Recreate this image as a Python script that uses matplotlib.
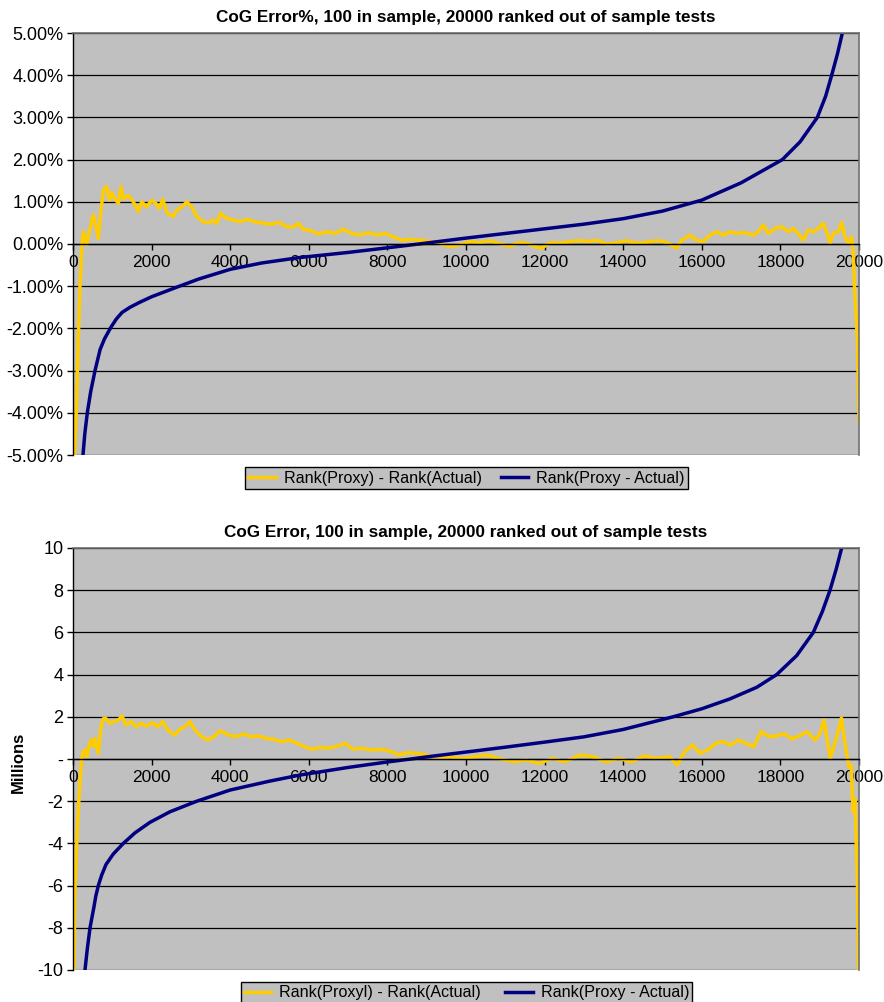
import matplotlib
matplotlib.use("Agg")
import matplotlib.pyplot as plt
from matplotlib.ticker import FuncFormatter

plt.rcParams['font.family'] = ['Liberation Sans', 'DejaVu Sans']

# Rank position of each out-of-sample test
x_ticks = list(range(0, 20001, 2000))

# --- CoG Error% (values in %) ---
pct_rank_x = [40, 90, 110, 150, 178, 200, 220, 263, 348, 433, 517, 585, 645, 704, 772, 857, 925,
              984, 1069, 1153, 1221, 1281, 1408, 1535, 1662, 1747, 1875, 2002, 2112, 2196, 2282,
              2399, 2552, 2654, 2766, 2893, 3020, 3147, 3317, 3443, 3570, 3655, 3757, 3910, 4079,
              4249, 4419, 4631, 4843, 5055, 5249, 5437, 5606, 5733, 5860, 6030, 6242, 6454, 6667,
              6878, 7091, 7303, 7515, 7727, 7939, 8151, 8363, 8575, 8787, 9000, 9211, 9423, 9636,
              9847, 10102, 10356, 10611, 10865, 11120, 11331, 11544, 11756, 11926, 12137, 12392,
              12646, 12901, 13155, 13325, 13580, 13834, 14089, 14258, 14470, 14682, 14936, 15148,
              15361, 15488, 15700, 15870, 16038, 16209, 16379, 16548, 16718, 16888, 17100, 17311,
              17438, 17565, 17692, 17863, 18033, 18200, 18328, 18455, 18582, 18710, 18837, 18964,
              19092, 19177, 19262, 19346, 19473, 19559, 19644, 19727, 19813, 19855, 19880, 19960,
              20000]
pct_rank_y = [-5.0, -3.8, -3.0, -1.8, -1.0, -0.6, -0.1, 0.29, -0.02, 0.37, 0.69, 0.41, 0.13, 0.73,
              1.28, 1.36, 1.04, 1.22, 1.07, 0.96, 1.36, 1.07, 1.15, 1.0, 0.77, 1.0, 0.88, 1.04,
              0.96, 0.84, 1.06, 0.73, 0.65, 0.82, 0.87, 1.0, 0.88, 0.65, 0.53, 0.50, 0.57, 0.49,
              0.73, 0.61, 0.57, 0.53, 0.58, 0.53, 0.49, 0.47, 0.51, 0.41, 0.40, 0.49, 0.35, 0.32,
              0.24, 0.29, 0.25, 0.35, 0.25, 0.21, 0.27, 0.21, 0.25, 0.17, 0.09, 0.11, 0.09, 0.08,
              0.02, -0.02, -0.06, -0.02, 0.06, 0.03, 0.08, 0.0, -0.06, 0.03, 0.02, -0.06, -0.10,
              0.03, 0.02, 0.06, 0.08, 0.06, 0.09, 0.0, 0.03, 0.08, 0.03, 0.02, 0.06, 0.08, 0.02,
              -0.10, 0.09, 0.21, 0.09, 0.06, 0.21, 0.29, 0.21, 0.29, 0.25, 0.27, 0.21, 0.29, 0.45,
              0.25, 0.37, 0.41, 0.29, 0.37, 0.25, 0.09, 0.33, 0.29, 0.37, 0.49, 0.29, 0.02, 0.25,
              0.29, 0.51, 0.17, 0.02, 0.17, -0.22, -0.9, -2.3, -4.2]

pct_diff_x = [254, 300, 364, 450, 560, 690, 800, 960, 1100, 1250, 1450, 1700, 2000, 2650, 3200,
              4000, 4800, 5776, 7000, 8000, 8800, 10000, 11000, 12000, 13000, 14000, 15000, 16000,
              17000, 18050, 18500, 18940, 19150, 19305, 19450, 19576]
pct_diff_y = [-5.0, -4.5, -4.0, -3.5, -3.0, -2.5, -2.25, -1.98, -1.78, -1.62, -1.5, -1.38, -1.25,
              -1.02, -0.83, -0.6, -0.45, -0.32, -0.2, -0.09, 0.0, 0.14, 0.25, 0.36, 0.47, 0.6,
              0.78, 1.04, 1.45, 2.0, 2.42, 3.0, 3.5, 4.0, 4.5, 5.0]

# --- CoG Error (values in millions) ---
abs_rank_x = [25, 50, 110, 180, 220, 260, 305, 350, 390, 430, 476, 520, 560, 610, 645, 690, 730,
              780, 832, 936, 1027, 1157, 1248, 1352, 1481, 1611, 1741, 1871, 2027, 2157, 2286,
              2416, 2585, 2715, 2845, 2974, 3104, 3273, 3429, 3585, 3753, 3948, 4143, 4338, 4532,
              4727, 4922, 5117, 5311, 5506, 5701, 5895, 6090, 6285, 6480, 6674, 6934, 7129, 7324,
              7583, 7843, 8103, 8297, 8492, 8752, 9011, 9271, 9596, 9920, 10244, 10504, 10829,
              11218, 11543, 11867, 12192, 12516, 12906, 13230, 13555, 13880, 14204, 14529, 14853,
              15178, 15372, 15567, 15762, 15957, 16152, 16346, 16541, 16735, 16930, 17125, 17320,
              17515, 17709, 17904, 18099, 18293, 18488, 18683, 18878, 19007, 19111, 19267, 19397,
              19553, 19657, 19748, 19800, 19850, 19900, 19960, 19990]
abs_rank_y = [-10.0, -6.3, -3.2, -1.0, 0.0, 0.35, 0.43, 0.1, 0.5, 0.75, 0.9, 0.6, 0.97, 0.5, 0.27,
              1.2, 1.69, 1.93, 1.93, 1.69, 1.77, 1.85, 2.04, 1.61, 1.77, 1.53, 1.69, 1.56, 1.72,
              1.53, 1.77, 1.37, 1.14, 1.41, 1.53, 1.77, 1.37, 1.06, 0.90, 1.06, 1.34, 1.14, 1.06,
              1.18, 1.06, 1.09, 0.98, 0.93, 0.82, 0.90, 0.74, 0.58, 0.46, 0.55, 0.51, 0.58, 0.74,
              0.46, 0.51, 0.43, 0.46, 0.35, 0.19, 0.30, 0.27, 0.19, 0.03, 0.11, 0.03, 0.11, 0.19,
              0.03, -0.13, -0.05, -0.21, 0.03, -0.13, 0.19, 0.11, -0.13, 0.03, -0.13, 0.14, 0.03,
              0.11, -0.28, 0.35, 0.66, 0.27, 0.43, 0.74, 0.82, 0.66, 0.90, 0.74, 0.58, 1.30, 1.06,
              1.09, 1.20, 0.95, 1.10, 1.30, 0.90, 1.20, 1.85, 0.05, 0.80, 1.95, 0.55, -0.40, -0.3,
              -2.5, -1.9, -6.0, -10.0]

abs_diff_x = [305, 364, 433, 534, 580, 644, 730, 840, 1026, 1280, 1577, 1960, 2468, 3150, 4000,
              5000, 5776, 7000, 8000, 8600, 9000, 10000, 11000, 12000, 13000, 14000, 15270, 16000,
              16718, 17400, 17905, 18414, 18838, 19070, 19262, 19420, 19559]
abs_diff_y = [-10.0, -9.0, -8.0, -7.0, -6.5, -6.0, -5.5, -5.0, -4.5, -4.0, -3.5, -3.0, -2.5, -2.0,
              -1.47, -1.05, -0.76, -0.4, -0.14, 0.0, 0.1, 0.33, 0.56, 0.8, 1.05, 1.4, 2.0, 2.38,
              2.85, 3.4, 4.0, 4.9, 6.0, 7.0, 8.0, 9.0, 10.0]

YELLOW = '#FFCC00'
NAVY = '#000080'
PLOT_BG = '#C0C0C0'

fig = plt.figure(figsize=(8.84, 10.02), dpi=100)
ax1 = fig.add_axes([73 / 884, 1 - 455 / 1002, 786 / 884, 422 / 1002])
ax2 = fig.add_axes([73 / 884, 1 - 970 / 1002, 786 / 884, 422 / 1002])


def style_axes(ax, ylim, yticks, yfmt, title):
    ax.set_facecolor(PLOT_BG)
    ax.set_axisbelow(True)
    ax.set_xlim(0, 20000)
    ax.set_ylim(*ylim)
    ax.set_xticks(x_ticks)
    ax.set_yticks(yticks)
    ax.yaxis.set_major_formatter(FuncFormatter(yfmt))
    ax.grid(True, axis='y', color='black', linewidth=0.9)
    ax.spines['bottom'].set_position(('data', 0))
    ax.spines['bottom'].set_linewidth(1.0)
    ax.spines['left'].set_linewidth(1.0)
    for side in ('top', 'right'):
        ax.spines[side].set_color('#707070')
        ax.spines[side].set_linewidth(1.2)
    ax.tick_params(axis='both', direction='out', length=4, width=1.0)
    ax.tick_params(axis='x', pad=4, labelsize=12.5)
    ax.tick_params(axis='y', pad=3, labelsize=13)
    ax.set_title(title, fontsize=12.3, fontweight='bold', pad=8)


def pct_label(v, pos):
    return f"{v:.2f}%"


def mil_label(v, pos):
    return '-' if abs(v) < 1e-9 else f"{v:.0f}"


style_axes(ax1, (-5, 5), list(range(-5, 6)), pct_label,
           'CoG Error%, 100 in sample, 20000 ranked out of sample tests')
ax1.plot(pct_rank_x, pct_rank_y, color=YELLOW, linewidth=2.5, label='Rank(Proxy) - Rank(Actual)')
ax1.plot(pct_diff_x, pct_diff_y, color=NAVY, linewidth=2.5, label='Rank(Proxy - Actual)')

style_axes(ax2, (-10, 10), list(range(-10, 11, 2)), mil_label,
           'CoG Error, 100 in sample, 20000 ranked out of sample tests')
ax2.plot(abs_rank_x, abs_rank_y, color=YELLOW, linewidth=2.5, label='Rank(Proxyl) - Rank(Actual)')
ax2.plot(abs_diff_x, abs_diff_y, color=NAVY, linewidth=2.5, label='Rank(Proxy - Actual)')
fig.text(18 / 884, 1 - 762 / 1002, 'Millions', rotation=90, fontsize=12, fontweight='bold',
         ha='center', va='center')

for ax, yc, colsp in ((ax1, 478, 1.2), (ax2, 993, 1.5)):
    leg = ax.legend(loc='center', bbox_to_anchor=(466.5 / 884, 1 - yc / 1002),
                    bbox_transform=fig.transFigure, ncol=2, fontsize=11.6, frameon=True,
                    fancybox=False, handlelength=1.7, handletextpad=0.5, columnspacing=colsp,
                    borderpad=0.2)
    frame = leg.get_frame()
    frame.set_facecolor(PLOT_BG)
    frame.set_edgecolor('black')
    frame.set_linewidth(1.0)
    frame.set_alpha(1)

fig.savefig('out.png', dpi=100)
